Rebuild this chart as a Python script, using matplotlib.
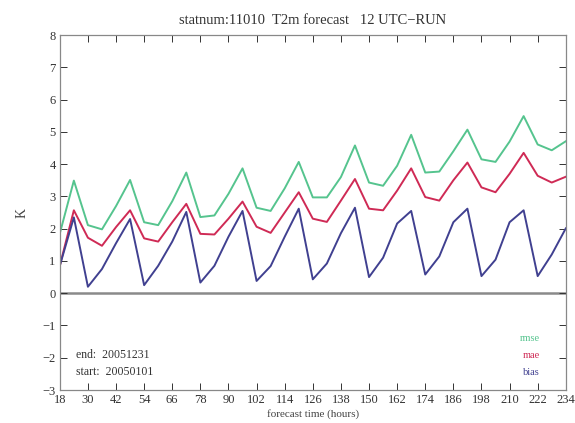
import numpy as np
import matplotlib.pyplot as plt

plt.rcParams['font.family'] = ['Liberation Serif', 'DejaVu Serif']

# forecast hours, 6-hourly from +18 to +234
hours = list(range(18, 235, 6))

rmse = [1.85, 3.49, 2.11, 1.98, 2.70, 3.51, 2.20, 2.11, 2.85, 3.74,
        2.36, 2.41, 3.08, 3.87, 2.65, 2.55, 3.25, 4.07, 2.97, 2.97,
        3.60, 4.58, 3.43, 3.33, 3.95, 4.91, 3.74, 3.77, 4.40, 5.07,
        4.15, 4.07, 4.70, 5.49, 4.61, 4.43, 4.71]
mae = [0.85, 2.57, 1.72, 1.47, 2.05, 2.57, 1.70, 1.60, 2.20, 2.77,
       1.84, 1.82, 2.31, 2.84, 2.06, 1.87, 2.50, 3.13, 2.31, 2.21,
       2.87, 3.54, 2.62, 2.57, 3.18, 3.87, 2.98, 2.87, 3.50, 4.05,
       3.28, 3.13, 3.70, 4.35, 3.64, 3.43, 3.61]
bias = [0.85, 2.35, 0.20, 0.75, 1.55, 2.30, 0.25, 0.85, 1.60, 2.52,
        0.33, 0.85, 1.75, 2.55, 0.38, 0.84, 1.75, 2.62, 0.43, 0.92,
        1.86, 2.65, 0.50, 1.10, 2.16, 2.55, 0.58, 1.14, 2.20, 2.62,
        0.53, 1.04, 2.20, 2.57, 0.53, 1.20, 2.01]

series = [('rmse', rmse, '#55c48e'), ('mae', mae, '#cf2a55'), ('bias', bias, '#404090')]

fig = plt.figure(figsize=(5.75, 4.23), dpi=100)
ax = fig.add_axes([0.104, 0.078, 0.880, 0.839])

ax.axhline(0, color='#8a8a8a', lw=1.8, zorder=1)
for name, vals, col in series:
    ax.plot(hours, vals, color=col, lw=1.4, zorder=2)

ax.set_xlim(18, 234)
ax.set_ylim(-3, 8)
ax.set_xticks(range(18, 235, 12))
ax.set_yticks(range(-3, 9))
ax.tick_params(direction='in', top=True, right=True, length=5, width=0.7,
               labelsize=9, colors='#333333', pad=3)
for s in ax.spines.values():
    s.set_color('#888888')
    s.set_linewidth(0.9)

ax.set_title('statnum:11010  T2m forecast   12 UTC\u2212RUN', fontsize=10.5, pad=8, color='#333333')
ax.set_xlabel('forecast time (hours)', fontsize=8, labelpad=2, color='#444444')
ax.set_ylabel('K', fontsize=10, rotation=90, labelpad=10, color='#444444')

ax.text(0.032, 0.100, 'end:  20051231', transform=ax.transAxes, fontsize=8.5,
        color='#333333', va='center')
ax.text(0.032, 0.050, 'start:  20050101', transform=ax.transAxes, fontsize=8.5,
        color='#333333', va='center')

for i, (name, vals, col) in enumerate(series):
    ax.text(0.949, 0.144 - i * 0.048, name, transform=ax.transAxes, fontsize=7.5,
            color=col, ha='right', va='center')

fig.savefig('out.png', dpi=100)
